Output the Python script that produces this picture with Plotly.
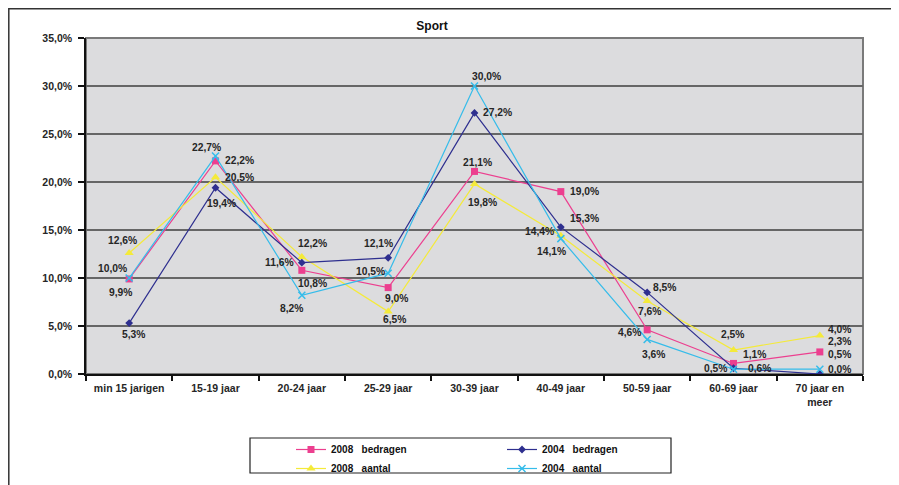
import plotly.graph_objects as go

# ---- data ----
categories = ["min 15 jarigen", "15-19 jaar", "20-24 jaar", "25-29 jaar", "30-39 jaar",
              "40-49 jaar", "50-59 jaar", "60-69 jaar", "70 jaar en<br>meer"]
bedragen_2008 = [9.9, 22.2, 10.8, 9.0, 21.1, 19.0, 4.6, 1.1, 2.3]
bedragen_2004 = [5.3, 19.4, 11.6, 12.1, 27.2, 15.3, 8.5, 0.6, 0.0]
aantal_2008 = [12.6, 20.5, 12.2, 6.5, 19.8, 14.4, 7.6, 2.5, 4.0]
aantal_2004 = [10.0, 22.7, 8.2, 10.5, 30.0, 14.1, 3.6, 0.5, 0.5]
y_ticks = [0, 5, 10, 15, 20, 25, 30, 35]
y_tick_labels = [f"{v:.1f}%".replace(".", ",") for v in y_ticks]

# ---- styles ----
FONT = "Liberation Sans, Arial, sans-serif"
TXT = "#262626"
series = [
    dict(name="2008\u00a0\u00a0\u00a0bedragen", values=bedragen_2008, color="#EC3F8F",
         symbol="square", size=7, legend="legend",
         offs=[(-9, 14), (24, 0), (11, 13), (8, 11), (3, -9), (24, 0), (-18, 3), (21, -9), (20, -10)]),
    dict(name="2008\u00a0\u00a0\u00a0aantal", values=aantal_2008, color="#F4EA3A",
         symbol="triangle-up", size=8, legend="legend",
         offs=[(-7, -13), (24, 0), (11, -13), (6, 8), (8, 19), (-21, -4), (2, 10), (-1, -16), (20, -6)]),
    dict(name="2004\u00a0\u00a0\u00a0bedragen", values=bedragen_2004, color="#2E2F8F",
         symbol="diamond", size=6, legend="legend2",
         offs=[(4, 11), (6, 16), (-22, 0), (-10, -14), (23, 0), (24, -9), (17, -5), (26, 0), (20, -5)]),
    dict(name="2004\u00a0\u00a0\u00a0aantal", values=aantal_2004, color="#35BCEA",
         symbol="x-thin", size=7, legend="legend2",
         offs=[(-17, -10), (-9, -9), (-10, 13), (-18, -2), (12, -10), (-9, 13), (6, 15), (-18, -1), (20, -15)]),
]

OFF = 8  # page offset (body margin)
W, H = 899 - OFF, 485 - OFF
L, T = 86 - OFF, 38 - OFF
R = W - (863 - OFF)
B = H - (374 - OFF)
pw, ph = W - L - R, H - T - B


def px(x):  # page pixel -> paper
    return (x - OFF - L) / pw


def py(y):
    return (H - B - (y - OFF)) / ph


fig = go.Figure()
annotations = []
for s in series:
    marker = dict(symbol=s["symbol"], size=s["size"], color=s["color"])
    if s["symbol"] == "x-thin":
        marker["line"] = dict(color=s["color"], width=1.5)
    fig.add_trace(go.Scatter(
        x=categories, y=s["values"], mode="lines+markers", name=s["name"],
        line=dict(color=s["color"], width=1.2), marker=marker, legend=s["legend"],
    ))
    for c, v, (dx, dy) in zip(categories, s["values"], s["offs"]):
        annotations.append(dict(
            x=c, y=v, xref="x", yref="y", text=f"{v:.1f}%".replace(".", ","),
            showarrow=False, xshift=dx, yshift=-dy,
            font=dict(family=FONT, size=10.3, color=TXT, weight="bold"),
        ))

shapes = [
    # outer frame
    dict(type="rect", xref="paper", yref="paper", x0=px(8.8), x1=px(897), y0=py(500), y1=py(8.8),
         line=dict(color="#333333", width=1.5), layer="below"),
    # plot border (gray top/right)
    dict(type="rect", xref="paper", yref="paper", x0=0, x1=1, y0=0, y1=1,
         line=dict(color="#7a7a7a", width=2), layer="below"),
    # legend box
    dict(type="rect", xref="paper", yref="paper", x0=px(250), x1=px(671), y0=py(473), y1=py(438),
         line=dict(color="#222222", width=1.2)),
]

leg_common = dict(orientation="v", xanchor="left", yanchor="top", bgcolor="rgba(0,0,0,0)",
                  font=dict(family=FONT, size=10, color="#111111", weight="bold"),
                  traceorder="normal", borderwidth=0)

fig.update_layout(
    width=W, height=H,
    margin=dict(l=L, r=R, t=T, b=B, autoexpand=False),
    paper_bgcolor="white", plot_bgcolor="#DCDCDE",
    separators=",.",
    font=dict(family=FONT, size=10.5, color=TXT),
    title=dict(text="<b>Sport</b>", x=(432 - OFF) / W, xanchor="center",
               y=1 - (26 - OFF) / H, yanchor="middle",
               font=dict(family=FONT, size=12, color="#111111")),
    showlegend=True,
    legend=dict(x=px(291), y=py(435), **leg_common),
    legend2=dict(x=px(502), y=py(435), **leg_common),
    shapes=shapes,
    annotations=annotations,
)
fig.update_xaxes(
    type="category", tickson="boundaries", ticks="outside", ticklen=5, tickwidth=1.5,
    tickcolor="#111111", showline=True, linecolor="#111111", linewidth=1.5, showgrid=False,
    tickfont=dict(family=FONT, size=10.5, color=TXT, weight="bold"), zeroline=False,
    range=[-0.5, len(categories) - 0.5], ticklabelstandoff=4,
)
fig.update_yaxes(
    range=[0, 35], tickvals=y_ticks, ticktext=y_tick_labels,
    ticks="outside", ticklen=6, tickwidth=1.5, tickcolor="#111111",
    showline=True, linecolor="#111111", linewidth=1.5,
    showgrid=True, gridcolor="#666666", gridwidth=1.8, zeroline=False,
    tickfont=dict(family=FONT, size=10.5, color=TXT, weight="bold"), ticklabelstandoff=4,
)

fig.write_html("out.html")
